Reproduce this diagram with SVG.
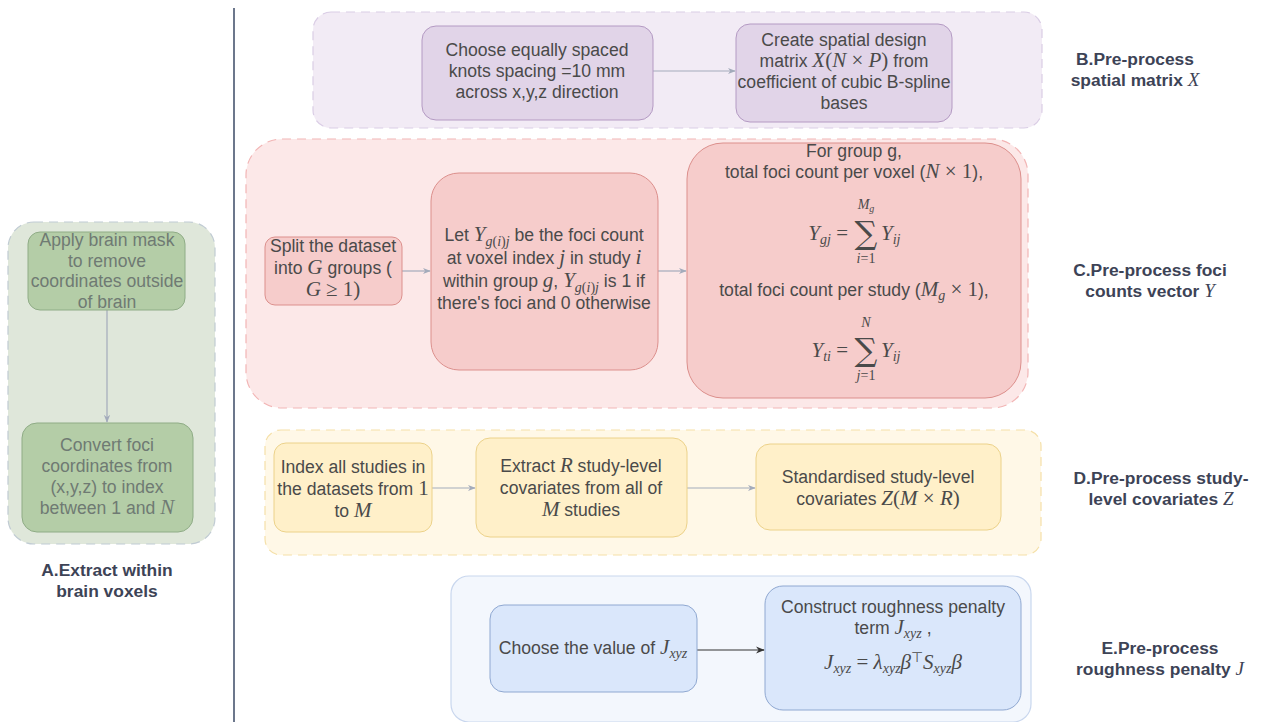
<svg xmlns="http://www.w3.org/2000/svg" width="1261" height="722" viewBox="0 0 1261 722">
<defs>
<marker id="arr" viewBox="0 0 10 10" refX="9" refY="5" markerWidth="8" markerHeight="8" markerUnits="userSpaceOnUse" orient="auto">
<path d="M0,1 L10,5 L0,9 L3,5 Z" fill="#a3abbb"/>
</marker>
<marker id="arrd" viewBox="0 0 10 10" refX="9" refY="5" markerWidth="9" markerHeight="9" markerUnits="userSpaceOnUse" orient="auto">
<path d="M0,1 L10,5 L0,9 L3,5 Z" fill="#333"/>
</marker>
<style>
.t{font-family:"Liberation Sans",Arial,sans-serif;font-size:17.6px;fill:#4a4a4a;text-anchor:middle}
.tg{fill:#6f7a73}
.m{font-family:"Liberation Serif","Times New Roman",serif;font-style:italic;font-size:21px}
.mr{font-family:"Liberation Serif","Times New Roman",serif;font-style:normal;font-size:21px}
.sub{font-size:14px}
.lab{font-family:"Liberation Sans",Arial,sans-serif;font-size:17.4px;font-weight:bold;fill:#3d4356;text-anchor:middle}
.lab .m{font-weight:normal;font-size:19px;fill:#3d4356}
.cont{stroke-width:1.2;stroke-dasharray:9 6}
.conn{fill:none;stroke:#a3abbb;stroke-width:1.2}
.big{font-family:"DejaVu Serif",serif;font-size:32px;fill:#4a4a4a;text-anchor:middle}
.lim{font-family:"Liberation Serif",serif;font-style:italic;font-size:14px;fill:#4a4a4a;text-anchor:middle}
</style>
</defs>
<rect width="1261" height="722" fill="#ffffff"/>
<line x1="234" y1="8" x2="234" y2="722" stroke="#6c778c" stroke-width="2"/>

<g id="containerA">
<rect class="cont" x="8" y="222" width="207" height="322" rx="26" fill="#dfe7da" stroke="#c0cbd3"/>
</g>
<g id="containerB">
<rect class="cont" x="313" y="12" width="729" height="116" rx="18" fill="#f2ebf5" stroke="#dacde5"/>
</g>
<g id="containerC">
<rect class="cont" x="246" y="139" width="782" height="269" rx="36" fill="#fce8e8" stroke="#f2b5b5"/>
</g>
<g id="containerD">
<rect class="cont" x="265" y="430" width="776" height="125" rx="16" fill="#fff8e7" stroke="#f5e0a8"/>
</g>
<g id="containerE">
<rect x="451" y="576" width="580" height="146" rx="18" fill="#f3f7fd" stroke="#c9d7ee" stroke-width="1.2"/>
</g>

<g id="connectors">
<path class="conn" d="M107,310 L107,422" marker-end="url(#arr)"/>
<path class="conn" d="M653,71 L735,71" marker-end="url(#arr)"/>
<path class="conn" d="M402,271 L430,271" marker-end="url(#arr)"/>
<path class="conn" d="M658,271 L686,271" marker-end="url(#arr)"/>
<path class="conn" d="M432,488 L475,488" marker-end="url(#arr)"/>
<path class="conn" d="M687,488 L755,488" marker-end="url(#arr)"/>
<path d="M697,650 L764,650" fill="none" stroke="#333" stroke-width="1.2" marker-end="url(#arrd)"/>
</g>

<g id="nodeA1">
<rect x="28" y="232" width="157" height="78" rx="12" fill="#b4cda7" stroke="#8fac86"/>
<text class="t tg" x="107" y="246">Apply brain mask</text>
<text class="t tg" x="107" y="267">to remove</text>
<text class="t tg" x="107" y="287">coordinates outside</text>
<text class="t tg" x="107" y="308">of brain</text>
</g>
<g id="nodeA2">
<rect x="22" y="423" width="171" height="109" rx="15" fill="#b4cda7" stroke="#8fac86"/>
<text class="t tg" x="107" y="451">Convert foci</text>
<text class="t tg" x="107" y="472">coordinates from</text>
<text class="t tg" x="107" y="493">(x,y,z) to index</text>
<text class="t tg" x="107" y="514">between 1 and <tspan class="m">N</tspan></text>
</g>
<g id="labelA">
<text class="lab" x="107" y="576">A.Extract within</text>
<text class="lab" x="107" y="597">brain voxels</text>
</g>

<g id="nodeB1">
<rect x="422" y="26" width="231" height="94" rx="14" fill="#e1d4e8" stroke="#b49ac3"/>
<text class="t" x="537" y="56">Choose equally spaced</text>
<text class="t" x="537" y="77">knots spacing =10 mm</text>
<text class="t" x="537" y="98">across x,y,z direction</text>
</g>
<g id="nodeB2">
<rect x="736" y="24" width="216" height="98" rx="14" fill="#e1d4e8" stroke="#b49ac3"/>
<text class="t" x="844" y="46">Create spatial design</text>
<text class="t" x="844" y="67">matrix <tspan class="m">X</tspan><tspan class="mr">(</tspan><tspan class="m">N</tspan><tspan class="mr"> × </tspan><tspan class="m">P</tspan><tspan class="mr">)</tspan> from</text>
<text class="t" x="844" y="88">coefficient of cubic B-spline</text>
<text class="t" x="844" y="109">bases</text>
</g>
<g id="labelB">
<text class="lab" x="1135" y="65">B.Pre-process</text>
<text class="lab" x="1135" y="86">spatial matrix <tspan class="m">X</tspan></text>
</g>

<g id="nodeC1">
<rect x="265" y="237" width="137" height="68" rx="10" fill="#f6cccb" stroke="#dc8f8c"/>
<text class="t" x="333" y="252">Split the dataset</text>
<text class="t" x="333" y="274">into <tspan class="m">G</tspan> groups (</text>
<text class="t" x="333" y="296"><tspan class="m">G</tspan><tspan class="mr"> ≥ 1)</tspan></text>
</g>
<g id="nodeC2">
<rect x="431" y="173" width="227" height="197" rx="28" fill="#f6cccb" stroke="#dc8f8c"/>
<text class="t" x="544" y="241">Let <tspan class="m">Y</tspan><tspan class="m sub" dy="5">g</tspan><tspan class="mr sub">(</tspan><tspan class="m sub">i</tspan><tspan class="mr sub">)</tspan><tspan class="m sub">j</tspan><tspan dy="-5"> be the foci count</tspan></text>
<text class="t" x="544" y="264">at voxel index <tspan class="m">j</tspan> in study <tspan class="m">i</tspan></text>
<text class="t" x="544" y="287">within group <tspan class="m">g</tspan>, <tspan class="m">Y</tspan><tspan class="m sub" dy="5">g</tspan><tspan class="mr sub">(</tspan><tspan class="m sub">i</tspan><tspan class="mr sub">)</tspan><tspan class="m sub">j</tspan><tspan dy="-5"> is 1 if</tspan></text>
<text class="t" x="544" y="309">there's foci and 0 otherwise</text>
</g>
<g id="nodeC3">
<rect x="687" y="143" width="334" height="255" rx="36" fill="#f6cccb" stroke="#dc8f8c"/>
<text class="t" x="854" y="157">For group g,</text>
<text class="t" x="854" y="178">total foci count per voxel (<tspan class="m">N</tspan><tspan class="mr"> × 1</tspan>),</text>
<text class="t" x="848" y="240" style="text-anchor:end"><tspan class="m">Y</tspan><tspan class="m sub" dy="4">gj</tspan><tspan class="mr" dy="-4"> =</tspan></text>
<text class="big" x="866" y="244">∑</text>
<text class="lim" x="866" y="209">M<tspan font-size="10" dy="3">g</tspan></text>
<text class="lim" x="866" y="263">i<tspan font-style="normal">=1</tspan></text>
<text class="t" x="881" y="240" style="text-anchor:start"><tspan class="m">Y</tspan><tspan class="m sub" dy="4">ij</tspan></text>
<text class="t" x="854" y="296">total foci count per study (<tspan class="m">M</tspan><tspan class="m sub" dy="4">g</tspan><tspan class="mr" dy="-4"> × 1</tspan>),</text>
<text class="t" x="848" y="357" style="text-anchor:end"><tspan class="m">Y</tspan><tspan class="m sub" dy="4">ti</tspan><tspan class="mr" dy="-4"> =</tspan></text>
<text class="big" x="866" y="361">∑</text>
<text class="lim" x="866" y="327">N</text>
<text class="lim" x="866" y="380">j<tspan font-style="normal">=1</tspan></text>
<text class="t" x="881" y="357" style="text-anchor:start"><tspan class="m">Y</tspan><tspan class="m sub" dy="4">ij</tspan></text>
</g>
<g id="labelC">
<text class="lab" x="1150" y="276">C.Pre-process foci</text>
<text class="lab" x="1150" y="297">counts vector <tspan class="m">Y</tspan></text>
</g>

<g id="nodeD1">
<rect x="274" y="443" width="158" height="89" rx="12" fill="#fff0c9" stroke="#ecd28a"/>
<text class="t" x="353" y="473">Index all studies in</text>
<text class="t" x="353" y="495">the datasets from <tspan class="mr">1</tspan></text>
<text class="t" x="353" y="517">to <tspan class="m">M</tspan></text>
</g>
<g id="nodeD2">
<rect x="476" y="438" width="211" height="99" rx="14" fill="#fff0c9" stroke="#ecd28a"/>
<text class="t" x="581" y="472">Extract <tspan class="m">R</tspan> study-level</text>
<text class="t" x="581" y="494">covariates from all of</text>
<text class="t" x="581" y="516"><tspan class="m">M</tspan> studies</text>
</g>
<g id="nodeD3">
<rect x="756" y="444" width="245" height="86" rx="14" fill="#fff0c9" stroke="#ecd28a"/>
<text class="t" x="878" y="483">Standardised study-level</text>
<text class="t" x="878" y="505">covariates <tspan class="m">Z</tspan><tspan class="mr">(</tspan><tspan class="m">M</tspan><tspan class="mr"> × </tspan><tspan class="m">R</tspan><tspan class="mr">)</tspan></text>
</g>
<g id="labelD">
<text class="lab" x="1161" y="484">D.Pre-process study-</text>
<text class="lab" x="1161" y="505">level covariates <tspan class="m">Z</tspan></text>
</g>

<g id="nodeE1">
<rect x="490" y="605" width="207" height="87" rx="14" fill="#dae7fb" stroke="#8fa8d1"/>
<text class="t" x="593" y="654">Choose the value of <tspan class="m">J</tspan><tspan class="m sub" dy="4">xyz</tspan></text>
</g>
<g id="nodeE2">
<rect x="765" y="586" width="256" height="124" rx="18" fill="#dae7fb" stroke="#8fa8d1"/>
<text class="t" x="893" y="613">Construct roughness penalty</text>
<text class="t" x="893" y="634">term <tspan class="m">J</tspan><tspan class="m sub" dy="4">xyz</tspan><tspan dy="-4"> ,</tspan></text>
<text class="t" x="893" y="669"><tspan class="m">J</tspan><tspan class="m sub" dy="4">xyz</tspan><tspan class="mr" dy="-4"> = </tspan><tspan class="m">λ</tspan><tspan class="m sub" dy="4">xyz</tspan><tspan class="m" dy="-4">β</tspan><tspan class="mr sub" dy="-7">⊤</tspan><tspan class="m" dy="7">S</tspan><tspan class="m sub" dy="4">xyz</tspan><tspan class="m" dy="-4">β</tspan></text>
</g>
<g id="labelE">
<text class="lab" x="1160" y="654">E.Pre-process</text>
<text class="lab" x="1160" y="675">roughness penalty <tspan class="m">J</tspan></text>
</g>
</svg>
